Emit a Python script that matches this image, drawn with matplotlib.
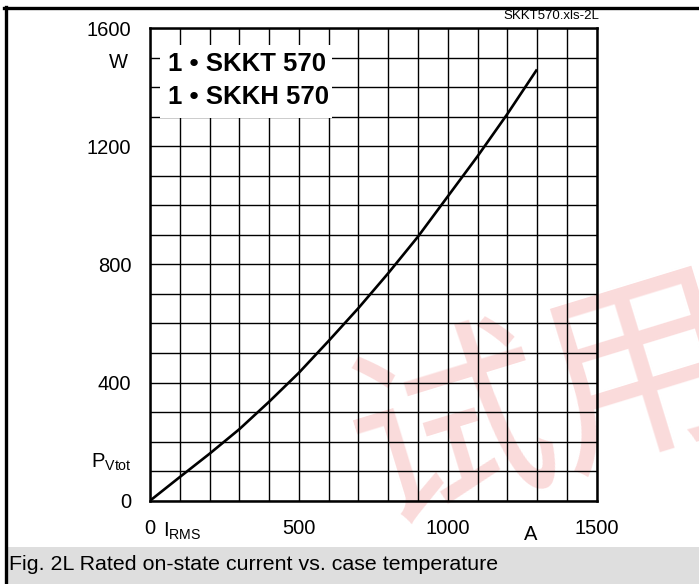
import matplotlib.pyplot as plt
from matplotlib.patches import Rectangle
from matplotlib.lines import Line2D

# values
i_rms = [0, 100, 200, 300, 400, 500, 600, 700, 800, 900, 1000, 1100, 1200, 1297]
p_vtot = [0, 80, 159, 242, 335, 433, 541, 652, 770, 894, 1030, 1166, 1309, 1456]

x_ticks = list(range(0, 1501, 100))
x_labels = ["0", "500", "1000", "1500"]
y_ticks = list(range(0, 1601, 100))
y_labels = ["0", "400", "800", "1200", "1600"]

title_lines = ["1 \u2022 SKKT 570", "1 \u2022 SKKH 570"]
caption = "Fig. 2L Rated on-state current vs. case temperature"
file_tag = "SKKT570.xls-2L"

plt.rcParams['font.family'] = ['Liberation Sans', 'DejaVu Sans']

W, H = 699, 584
fig = plt.figure(figsize=(W / 100, H / 100), dpi=100)

def px(x, y):
    return x / W, 1 - y / H

ax = fig.add_axes([150 / W, (H - 500.7) / H, (596.7 - 150) / W, (500.7 - 28) / H])
ax.patch.set_alpha(0)

ax.plot(i_rms, p_vtot, color='black', lw=1.9, zorder=5, solid_joinstyle='round')

ax.set_xlim(0, 1500)
ax.set_ylim(0, 1600)
ax.set_xticks(x_ticks)
ax.set_xticklabels([str(v) if str(v) in x_labels else "" for v in x_ticks])
ax.set_yticks(y_ticks)
ax.set_yticklabels([str(v) if str(v) in y_labels else "" for v in y_ticks])
ax.tick_params(length=0, labelsize=14.5, pad=0)
ax.tick_params(axis='x', pad=13)
ax.tick_params(axis='y', pad=13.5)
ax.grid(True, color='black', lw=1.0)
for s in ax.spines.values():
    s.set_linewidth(1.8)

# white box behind the type names
ax.add_patch(Rectangle((34, 1296), 578, 246, facecolor='white', edgecolor='none', zorder=3))
ax.text(60, 1478, title_lines[0], fontsize=18.5, fontweight='bold', va='center', ha='left', zorder=4)
ax.text(60, 1366, title_lines[1], fontsize=18.5, fontweight='bold', va='center', ha='left', zorder=4)

# axis names
fig.text(*px(128, 63), "W", fontsize=14.5, ha='right', va='center')
fig.text(*px(132, 462), r"P$_{\mathregular{Vtot}}$", fontsize=14.5, ha='right', va='center')
fig.text(*px(163, 531), r"I$_{\mathregular{RMS}}$", fontsize=14.5, ha='left', va='center')
fig.text(*px(531, 535), "A", fontsize=14.5, ha='center', va='center')
fig.text(*px(599, 16), file_tag, fontsize=9.5, ha='right', va='center')

# watermark
fig.text(*px(550, 408), "试用", family=['Noto Sans CJK SC', 'DejaVu Sans'], fontsize=145,
         color='#f4a0a0', alpha=0.38, rotation=17, ha='center', va='center',
         rotation_mode='anchor', zorder=-1)

# caption band and frame
fig.patches.append(Rectangle(px(5, 584), (W - 5) / W, 37 / H, transform=fig.transFigure,
                             facecolor='#dedede', edgecolor='none', zorder=-2))
fig.text(*px(9, 565), caption, fontsize=15.4, ha='left', va='center')
fig.lines.append(Line2D([4 / W, 1], [1 - 8 / H, 1 - 8 / H], transform=fig.transFigure, color='black', lw=2.4))
fig.lines.append(Line2D([5.5 / W, 5.5 / W], [0, 1 - 7 / H], transform=fig.transFigure, color='black', lw=2.4))

fig.savefig("out.png", dpi=100)
